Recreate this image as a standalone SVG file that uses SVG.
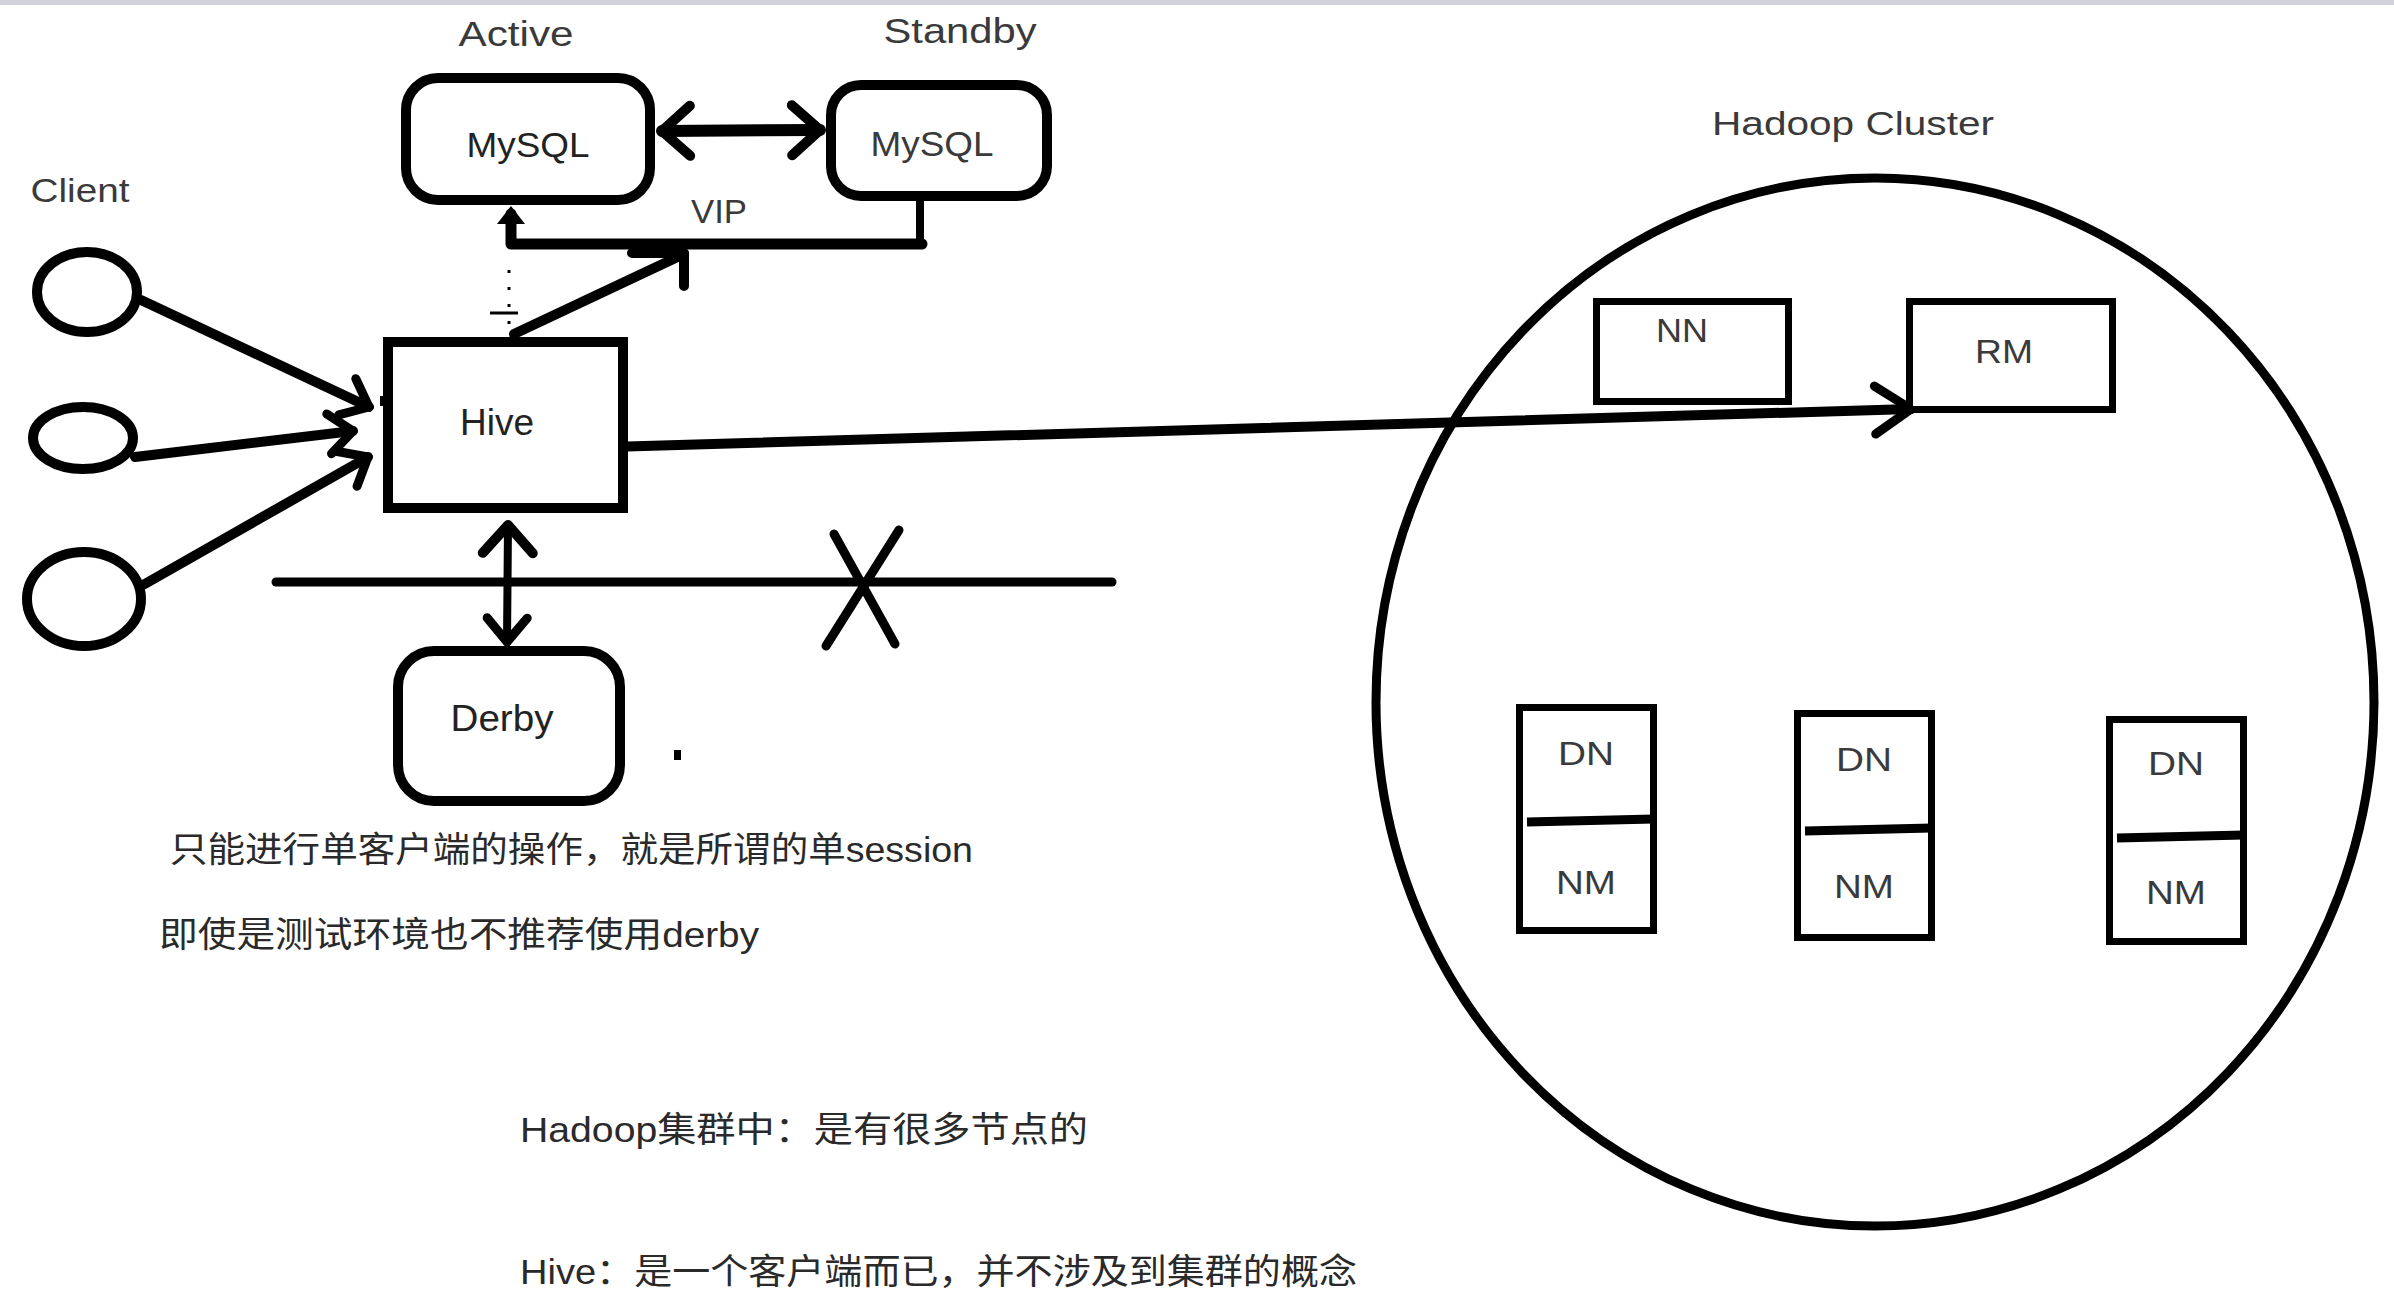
<svg xmlns="http://www.w3.org/2000/svg" width="2394" height="1308" viewBox="0 0 2394 1308">
<style>
.box{fill:#fff;stroke:#000;stroke-width:10}
.thin{fill:#fff;stroke:#000;stroke-width:7}
.lbl{font-family:"Liberation Sans","DejaVu Sans",sans-serif;fill:#222;text-anchor:middle}
.cap{font-family:"Liberation Sans","DejaVu Sans",sans-serif;fill:#3a3a3a;text-anchor:middle}
.note{font-family:"Liberation Sans","Noto Sans CJK SC",sans-serif;fill:#2a2a2a;font-size:35px}
.ln{fill:none;stroke:#000;stroke-linecap:round;stroke-linejoin:round}
</style>
<defs>
<marker id="chev" viewBox="-4 -4 38 58" refX="28" refY="25" markerWidth="38" markerHeight="58" markerUnits="userSpaceOnUse" orient="auto-start-reverse" overflow="visible">
<path d="M0,0 L28,25 L0,50" fill="none" stroke="#000" stroke-width="10" stroke-linecap="round" stroke-linejoin="round"/>
</marker>
<marker id="chevS" viewBox="-4 -4 34 48" refX="24" refY="20" markerWidth="34" markerHeight="48" markerUnits="userSpaceOnUse" orient="auto" overflow="visible">
<path d="M0,0 L24,20 L0,40" fill="none" stroke="#000" stroke-width="9" stroke-linecap="round" stroke-linejoin="round"/>
</marker>
<marker id="chevL" viewBox="-4 -4 44 56" refX="36" refY="24" markerWidth="44" markerHeight="56" markerUnits="userSpaceOnUse" orient="auto" overflow="visible">
<path d="M0,0 L36,24 L0,48" fill="none" stroke="#000" stroke-width="9" stroke-linecap="round" stroke-linejoin="round"/>
</marker>
</defs>
<rect x="0" y="0" width="2394" height="5" fill="#d2d2da"/>

<g id="connectors">
<line class="ln" x1="662" y1="131" x2="820" y2="130" stroke-width="12" marker-start="url(#chev)" marker-end="url(#chev)"/>
<path class="ln" d="M920,202 V244" stroke-width="8"/>
<path class="ln" d="M922,244 H511 V214" stroke-width="11"/>
<path d="M497,224 L511,206 L525,224 Z" fill="#000"/>
<line class="ln" x1="514" y1="334" x2="684" y2="254" stroke-width="10"/>
<path class="ln" d="M632,253 H684 V286" stroke-width="10"/>
<line x1="509" y1="270" x2="509" y2="330" stroke="#000" stroke-width="3" stroke-dasharray="3,14"/>
<line x1="490" y1="313" x2="518" y2="313" stroke="#000" stroke-width="3"/>
<line class="ln" x1="141" y1="300" x2="369" y2="407" stroke-width="10" marker-end="url(#chevS)"/>
<line class="ln" x1="135" y1="457" x2="353" y2="431" stroke-width="10" marker-end="url(#chevS)"/>
<line class="ln" x1="143" y1="585" x2="368" y2="457" stroke-width="10" marker-end="url(#chevS)"/>
<rect x="380" y="396" width="12" height="10" fill="#000"/>
<line class="ln" x1="610" y1="447" x2="1911" y2="409" stroke-width="10" marker-end="url(#chevL)"/>
<line class="ln" x1="508" y1="525" x2="507" y2="642" stroke-width="8" marker-start="url(#chev)" marker-end="url(#chevS)"/>
<line class="ln" x1="276" y1="582" x2="1112" y2="582" stroke-width="9"/>
<line class="ln" x1="834" y1="534" x2="895" y2="644" stroke-width="9"/>
<line class="ln" x1="899" y1="530" x2="826" y2="646" stroke-width="9"/>
</g>

<g id="active-mysql">
<text class="cap" x="516" y="46" font-size="35" textLength="115" lengthAdjust="spacingAndGlyphs">Active</text>
<rect class="box" x="406" y="78" width="244" height="122" rx="32" stroke-width="11"/>
<text class="lbl" x="528" y="157" font-size="35" textLength="123" lengthAdjust="spacingAndGlyphs">MySQL</text>
</g>
<g id="standby-mysql">
<text class="cap" x="960" y="43" font-size="35" textLength="153" lengthAdjust="spacingAndGlyphs">Standby</text>
<rect class="box" x="831" y="85" width="216" height="111" rx="30" stroke-width="11"/>
<text class="cap" x="932" y="156" font-size="35" textLength="123" lengthAdjust="spacingAndGlyphs">MySQL</text>
</g>
<g id="vip">
<text class="cap" x="719" y="223" font-size="34" textLength="56" lengthAdjust="spacingAndGlyphs">VIP</text>
</g>
<g id="clients">
<text class="cap" x="80" y="202" font-size="34" textLength="99" lengthAdjust="spacingAndGlyphs">Client</text>
<ellipse class="box" cx="87" cy="292" rx="50" ry="40" stroke-width="11"/>
<ellipse class="box" cx="83" cy="438" rx="50" ry="31" stroke-width="11"/>
<ellipse class="box" cx="84" cy="599" rx="57" ry="47" stroke-width="11"/>
</g>
<g id="hive">
<rect class="box" x="388" y="342" width="235" height="166"/>
<text class="lbl" x="497" y="435" font-size="36" textLength="74" lengthAdjust="spacingAndGlyphs">Hive</text>
</g>
<g id="derby">
<rect class="box" x="398" y="651" width="222" height="150" rx="36" stroke-width="11"/>
<text class="lbl" x="502" y="731" font-size="36" textLength="103" lengthAdjust="spacingAndGlyphs">Derby</text>
<rect x="674" y="750" width="7" height="10" fill="#000"/>
</g>

<g id="hadoop-cluster">
<text class="cap" x="1853" y="135" font-size="34" textLength="282" lengthAdjust="spacingAndGlyphs">Hadoop Cluster</text>
<ellipse cx="1875" cy="702" rx="499" ry="524" fill="none" stroke="#000" stroke-width="9"/>
</g>
<g id="nn">
<rect class="thin" x="1596.5" y="301.5" width="192" height="100"/>
<text class="cap" x="1682" y="342" font-size="33" textLength="52" lengthAdjust="spacingAndGlyphs">NN</text>
</g>
<g id="rm">
<rect class="thin" x="1909.5" y="301.5" width="203" height="108"/>
<text class="cap" x="2004" y="363" font-size="33" textLength="58" lengthAdjust="spacingAndGlyphs">RM</text>
</g>
<g id="worker1">
<rect class="thin" x="1519.5" y="707.5" width="134" height="223"/>
<line x1="1527" y1="822" x2="1654" y2="819" stroke="#000" stroke-width="9"/>
<text class="cap" x="1586" y="765" font-size="33" textLength="56" lengthAdjust="spacingAndGlyphs">DN</text>
<text class="cap" x="1586" y="894" font-size="33" textLength="60" lengthAdjust="spacingAndGlyphs">NM</text>
</g>
<g id="worker2">
<rect class="thin" x="1797.5" y="713.5" width="134" height="224"/>
<line x1="1805" y1="831" x2="1932" y2="828" stroke="#000" stroke-width="9"/>
<text class="cap" x="1864" y="771" font-size="33" textLength="56" lengthAdjust="spacingAndGlyphs">DN</text>
<text class="cap" x="1864" y="898" font-size="33" textLength="60" lengthAdjust="spacingAndGlyphs">NM</text>
</g>
<g id="worker3">
<rect class="thin" x="2109.5" y="719.5" width="134" height="222"/>
<line x1="2117" y1="838" x2="2244" y2="835" stroke="#000" stroke-width="9"/>
<text class="cap" x="2176" y="775" font-size="33" textLength="56" lengthAdjust="spacingAndGlyphs">DN</text>
<text class="cap" x="2176" y="904" font-size="33" textLength="60" lengthAdjust="spacingAndGlyphs">NM</text>
</g>

<g id="notes">
<text class="note" x="170" y="862" textLength="803" lengthAdjust="spacingAndGlyphs">只能进行单客户端的操作，就是所谓的单session</text>
<text class="note" x="159" y="947" textLength="600" lengthAdjust="spacingAndGlyphs">即使是测试环境也不推荐使用derby</text>
<text class="note" x="520" y="1142" textLength="568" lengthAdjust="spacingAndGlyphs">Hadoop集群中：是有很多节点的</text>
<text class="note" x="520" y="1284" textLength="837" lengthAdjust="spacingAndGlyphs">Hive：是一个客户端而已，并不涉及到集群的概念</text>
</g>
</svg>
